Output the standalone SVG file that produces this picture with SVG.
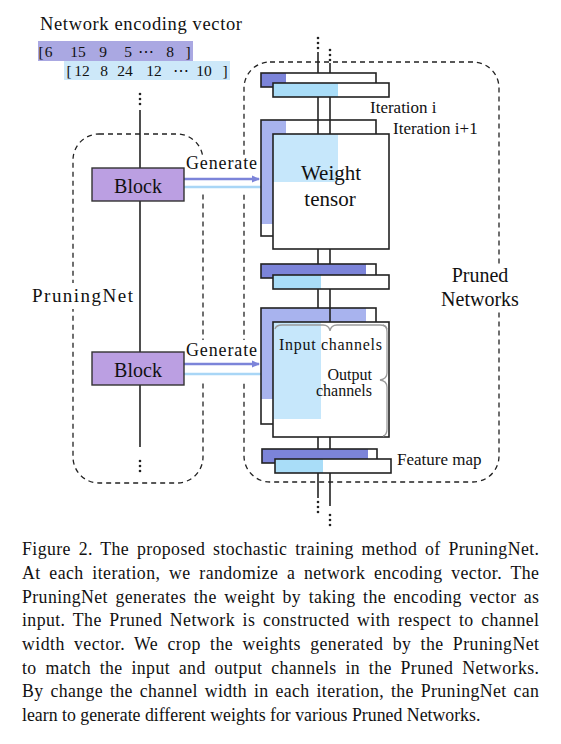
<svg xmlns="http://www.w3.org/2000/svg" width="561" height="744" viewBox="0 0 561 744">
<style>
text{font-family:"Liberation Serif","Times New Roman",serif;fill:#111}
.vec{font-family:"DejaVu Serif","Liberation Serif",serif;font-size:15.5px;text-anchor:middle}
.dash{fill:none;stroke:#222;stroke-width:1.3;stroke-dasharray:5 4}
.ln{stroke:#222;stroke-width:1.6;fill:none}
.box{fill:none;stroke:#222;stroke-width:1.6}
.wh{fill:#fff}
.dp{fill:#7c84d9}
.lp{fill:#a8b3ee}
.lb{fill:#a9ddf8}
.lb2{fill:#c6e7fb}
.blk{fill:#bb9fe2;stroke:#333;stroke-width:1.4}
.dot{fill:#222}
.cap{font-size:17.8px}
.brace{fill:none;stroke:#9a9a9a;stroke-width:1.3}
</style>
<defs>
<marker id="ahp" markerWidth="8" markerHeight="8" refX="7" refY="4" orient="auto" markerUnits="userSpaceOnUse"><path d="M0,0.5 L8,4 L0,7.5 z" fill="#7c84d9"/></marker>
<marker id="ahb" markerWidth="8" markerHeight="8" refX="7" refY="4" orient="auto" markerUnits="userSpaceOnUse"><path d="M0,0.5 L8,4 L0,7.5 z" fill="#a9d6f6"/></marker>
</defs>

<g id="encoding-vector">
<text x="40" y="30" font-size="18.5" textLength="202">Network encoding vector</text>
<rect x="38" y="41" width="155" height="20" fill="#aaa8e2"/>
<rect x="64" y="61" width="166" height="19" fill="#cde8f9"/>
<g class="vec">
<text x="41" y="57">[</text><text x="48.5" y="57">6</text><text x="78" y="57">15</text><text x="103" y="57">9</text><text x="128" y="57">5</text><text x="146" y="57">⋯</text><text x="170" y="57">8</text><text x="188" y="57">]</text>
<text x="69" y="76">[</text><text x="82" y="76">12</text><text x="104" y="76">8</text><text x="125" y="76">24</text><text x="154" y="76">12</text><text x="181" y="76">⋯</text><text x="204" y="76">10</text><text x="225" y="76">]</text>
</g>
</g>

<g id="pruningnet-group">
<rect class="dash" x="73" y="134" width="130" height="349" rx="26"/>
<rect class="wh" x="30" y="283" width="105" height="26"/>
<text x="32" y="302" font-size="19" textLength="101">PruningNet</text>
</g>

<g id="pruned-networks-group">
<rect class="dash" x="244" y="62" width="255" height="420" rx="26"/>
<rect class="wh" x="436" y="264" width="88" height="48"/>
<text x="480" y="282" font-size="20" text-anchor="middle">Pruned</text>
<text x="480" y="306" font-size="20" text-anchor="middle">Networks</text>
</g>

<g id="connectors">
<circle class="dot" cx="140" cy="94" r="1.3"/><circle class="dot" cx="140" cy="99" r="1.3"/><circle class="dot" cx="140" cy="104" r="1.3"/>
<line class="ln" x1="140" y1="110" x2="140" y2="168"/>
<line class="ln" x1="140" y1="201" x2="140" y2="352"/>
<line class="ln" x1="140" y1="385" x2="140" y2="447"/>
<circle class="dot" cx="140" cy="461" r="1.3"/><circle class="dot" cx="140" cy="466" r="1.3"/><circle class="dot" cx="140" cy="471" r="1.3"/>
<circle class="dot" cx="318" cy="38" r="1.3"/><circle class="dot" cx="318" cy="43" r="1.3"/><circle class="dot" cx="318" cy="48" r="1.3"/>
<circle class="dot" cx="330" cy="50" r="1.3"/><circle class="dot" cx="330" cy="55" r="1.3"/><circle class="dot" cx="330" cy="60" r="1.3"/>
<line class="ln" x1="318" y1="52" x2="318" y2="73"/>
<line class="ln" x1="330" y1="63" x2="330" y2="83"/>
<rect class="wh" x="186" y="156" width="72" height="36"/>
<rect class="wh" x="186" y="340" width="72" height="40"/>
<line x1="184" y1="179" x2="259" y2="179" stroke="#7c84d9" stroke-width="2.4" marker-end="url(#ahp)"/>
<line x1="184" y1="187" x2="273" y2="187" stroke="#a9d6f6" stroke-width="2.4" marker-end="url(#ahb)"/>
<line x1="184" y1="364" x2="259" y2="364" stroke="#7c84d9" stroke-width="2.4" marker-end="url(#ahp)"/>
<line x1="184" y1="374" x2="273" y2="374" stroke="#a9d6f6" stroke-width="2.4" marker-end="url(#ahb)"/>
<line class="ln" x1="318" y1="473" x2="318" y2="498"/>
<line class="ln" x1="330" y1="473" x2="330" y2="506"/>
<circle class="dot" cx="318" cy="502" r="1.3"/><circle class="dot" cx="318" cy="507" r="1.3"/><circle class="dot" cx="318" cy="512" r="1.3"/>
<circle class="dot" cx="330" cy="515" r="1.3"/><circle class="dot" cx="330" cy="520" r="1.3"/><circle class="dot" cx="330" cy="525" r="1.3"/>
<line class="ln" x1="318" y1="249" x2="318" y2="264"/>
<line class="ln" x1="330" y1="249" x2="330" y2="264"/>
<line class="ln" x1="318" y1="289" x2="318" y2="308"/>
<line class="ln" x1="318" y1="437" x2="318" y2="449"/>
<line class="ln" x1="330" y1="437" x2="330" y2="449"/>
</g>

<g id="block1">
<rect class="blk" x="92" y="168" width="92" height="33"/>
<text x="138" y="193" font-size="20" text-anchor="middle">Block</text>
<text x="186" y="169" font-size="18" textLength="71">Generate</text>
</g>
<g id="block2">
<rect class="blk" x="92" y="352" width="92" height="33"/>
<text x="138" y="377" font-size="20" text-anchor="middle">Block</text>
<text x="186" y="356" font-size="18" textLength="71">Generate</text>
</g>

<g id="feature-map-i">
<rect class="wh" x="261" y="73" width="115" height="14"/>
<rect class="dp" x="261" y="73" width="25" height="14"/>
<rect class="box" x="261" y="73" width="115" height="14"/>
<rect class="wh" x="273" y="83" width="116" height="14"/>
<rect class="lb" x="273" y="83" width="65" height="14"/>
<rect class="box" x="273" y="83" width="116" height="14"/>
<text x="370" y="113" font-size="17">Iteration i</text>
<text x="393" y="134" font-size="17">Iteration i+1</text>
</g>

<g id="weight-tensor-1">
<rect class="wh" x="261" y="120" width="115" height="116"/>
<rect class="lp" x="261" y="120" width="25" height="104"/>
<rect class="box" x="261" y="120" width="115" height="116"/>
<line class="ln" x1="318" y1="97" x2="318" y2="134"/>
<line class="ln" x1="330" y1="97" x2="330" y2="134"/>
<rect class="wh" x="273" y="134" width="116" height="115"/>
<rect class="lb2" x="273" y="134" width="65" height="48"/>
<rect class="box" x="273" y="134" width="116" height="115"/>
<text x="331" y="180" font-size="21" text-anchor="middle">Weight</text>
<text x="330" y="206" font-size="21" text-anchor="middle">tensor</text>
</g>

<g id="feature-map-2">
<rect class="wh" x="261" y="264" width="115" height="14"/>
<rect class="dp" x="261" y="264" width="105" height="14"/>
<rect class="box" x="261" y="264" width="115" height="14"/>
<rect class="wh" x="273" y="275" width="116" height="14"/>
<rect class="lb" x="273" y="275" width="48" height="14"/>
<rect class="box" x="273" y="275" width="116" height="14"/>
</g>

<g id="weight-tensor-2">
<rect class="wh" x="261" y="308" width="115" height="116"/>
<rect class="lp" x="261" y="308" width="105" height="91"/>
<rect class="box" x="261" y="308" width="115" height="116"/>
<line class="ln" x1="330" y1="289" x2="330" y2="322"/>
<rect class="wh" x="273" y="322" width="116" height="115"/>
<rect class="lb2" x="273" y="322" width="48" height="97"/>
<rect class="box" x="273" y="322" width="116" height="115"/>
<path class="brace" d="M275,329 Q276,325 282,325 L323,325 Q329,325 330,331 Q331,325 337,325 L380,325 Q386,325 387,329"/>
<path class="brace" d="M383,325 Q387,326 387,332 L387,373 Q387,379 380,380 Q387,381 387,387 L387,429 Q387,435 383,436"/>
<text x="279" y="350" font-size="16" textLength="103">Input channels</text>
<text x="372" y="380" font-size="16" text-anchor="end">Output</text>
<text x="372" y="396" font-size="16" text-anchor="end">channels</text>
</g>

<g id="feature-map-3">
<rect class="wh" x="262" y="449" width="115" height="14"/>
<rect class="dp" x="262" y="449" width="106" height="14"/>
<rect class="box" x="262" y="449" width="115" height="14"/>
<rect class="wh" x="275" y="459" width="116" height="14"/>
<rect class="lb" x="275" y="459" width="48" height="14"/>
<rect class="box" x="275" y="459" width="116" height="14"/>
<text x="397" y="465" font-size="17">Feature map</text>
</g>

<g id="caption" class="cap">
<text x="22" y="555" word-spacing="2.9" textLength="517" lengthAdjust="spacing">Figure 2. The proposed stochastic training method of PruningNet.</text>
<text x="22" y="579" word-spacing="3.8" textLength="517" lengthAdjust="spacing">At each iteration, we randomize a network encoding vector. The</text>
<text x="22" y="603" word-spacing="2.7" textLength="517" lengthAdjust="spacing">PruningNet generates the weight by taking the encoding vector as</text>
<text x="22" y="626" word-spacing="2.8" textLength="517" lengthAdjust="spacing">input. The Pruned Network is constructed with respect to channel</text>
<text x="22" y="650" word-spacing="4.3" textLength="517" lengthAdjust="spacing">width vector. We crop the weights generated by the PruningNet</text>
<text x="22" y="674" word-spacing="3.9" textLength="517" lengthAdjust="spacing">to match the input and output channels in the Pruned Networks.</text>
<text x="22" y="697" word-spacing="2.0" textLength="517" lengthAdjust="spacing">By change the channel width in each iteration, the PruningNet can</text>
<text x="22" y="721">learn to generate different weights for various Pruned Networks.</text>
</g>
</svg>
